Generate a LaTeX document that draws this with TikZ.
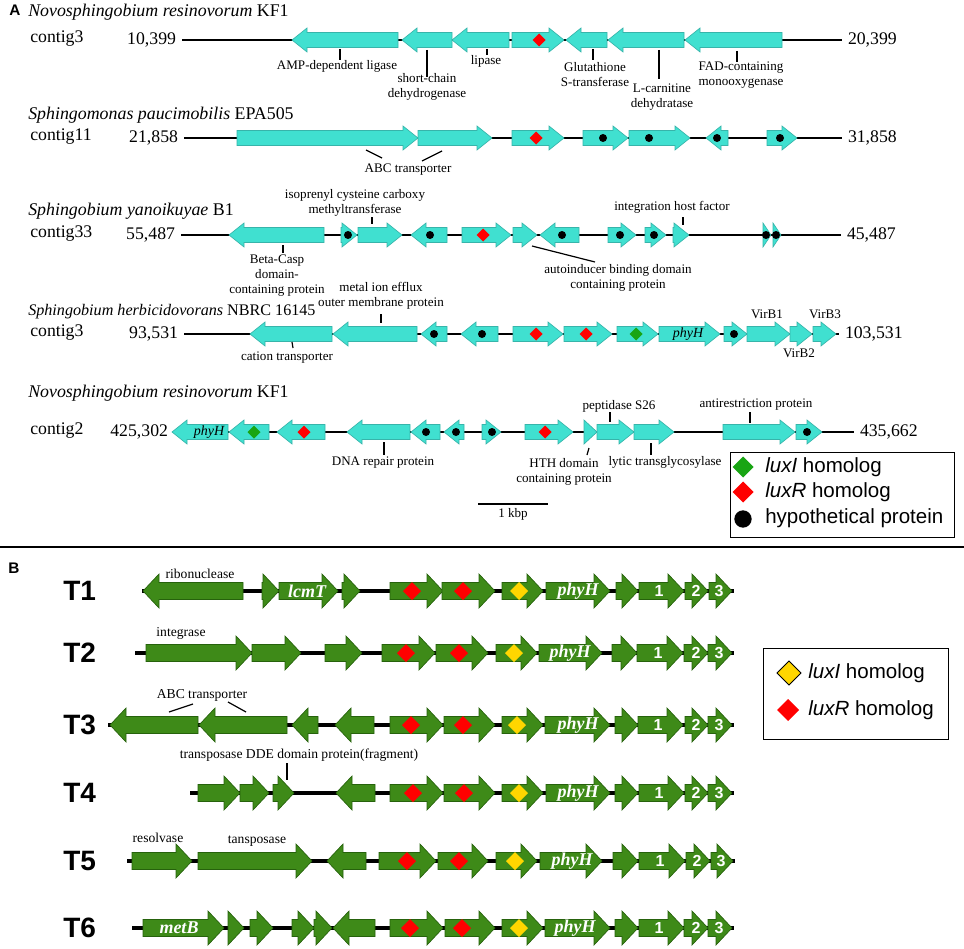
\documentclass[tikz,border=0pt]{standalone}
\usepackage{fontspec}
\setmainfont{Liberation Serif}
\setsansfont{Liberation Sans}
\usepackage{tikz}
\usetikzlibrary{calc}

\definecolor{turq}{RGB}{64,224,208}
\definecolor{turqedge}{RGB}{55,180,170}
\definecolor{leaf}{RGB}{62,138,24}
\definecolor{leafedge}{RGB}{38,98,12}
\definecolor{luxIgreen}{RGB}{25,165,20}
\definecolor{luxIyellow}{RGB}{255,214,0}

\newcommand{\gHead}{15}
\newcommand{\gBody}{7.5}
\newcommand{\gWing}{12}
\newcommand{\gene}[4][]{%
	\pgfmathsetmacro{\gLen}{#3-(#2)}%
	\pgfmathsetmacro{\gBase}{#3-(\gLen>0?1:-1)*min(\gHead,abs(\gLen))}%
	\filldraw[gene,#1] (#2,#4-\gBody) -- (\gBase,#4-\gBody) -- (\gBase,#4-\gWing) -- (#3,#4) -- (\gBase,#4+\gWing) -- (\gBase,#4+\gBody) -- (#2,#4+\gBody) -- cycle;}
\newcommand{\dmd}[4][]{\filldraw[#1] (#2,#3) +(-#4,0) -- +(0,#4) -- +(#4,0) -- +(0,-#4) -- cycle;}

\tikzset{
	geneA/.style={fill=turq, draw=turqedge, line width=0.5pt},
	geneB/.style={fill=leaf, draw=leafedge, line width=0.5pt},
	lbl/.style={font=\fontsize{9.8}{11.25}\selectfont, align=center, inner sep=0pt},
	lblB/.style={font=\fontsize{10.2}{12}\selectfont, inner sep=0pt},
	species/.style={font=\fontsize{13.4}{16}\selectfont, anchor=base west, inner sep=0pt},
	contig/.style={font=\fontsize{13.3}{16}\selectfont, anchor=west, inner sep=0pt},
	bpnum/.style={font=\fontsize{13.3}{16}\selectfont, inner sep=0pt, outer sep=4.5pt},
	legtext/.style={font=\sffamily\fontsize{15.4}{18}\selectfont, anchor=west, inner sep=0pt},
	trackname/.style={font=\sffamily\bfseries\fontsize{21}{24}\selectfont, anchor=west, inner sep=0pt},
	panel/.style={font=\sffamily\bfseries\fontsize{11.5}{13}\selectfont, anchor=base west, inner sep=0pt},
	inname/.style={font=\bfseries\itshape\fontsize{13.5}{15}\selectfont, text=white, inner sep=0pt},
	innum/.style={font=\sffamily\bfseries\fontsize{12}{14}\selectfont, text=white, inner sep=0pt},
	backA/.style={line width=1.3pt},
	backB/.style={line width=3pt},
	leader/.style={line width=0.9pt},
	redmark/.style={fill=red, draw=none},
	dot/.style={fill=black},
}

\begin{document}
\begin{tikzpicture}[x=0.75pt, y=-0.75pt]
	\useasboundingbox (0,0) rectangle (964,949);
	\tikzset{gene/.style={geneA}}

	\node[panel] (pA) at (9,16) {A};
	\node[species] (sp1) at (28,17) {\textit{Novosphingobium resinovorum} KF1};
	\node[contig] (c1) at (30,38.5) {contig3};
	\node[bpnum, anchor=east] (s1) at (182,40) {10,399};
	\node[bpnum, anchor=west] (e1) at (842,40) {20,399};
	\draw[backA] (s1) -- (e1);
	\gene{398}{292}{40} \gene{452}{402}{40} \gene{509}{452}{40} \gene{512}{564}{40}
	\gene{607}{566}{40} \gene{684}{608}{40} \gene{782}{685}{40}
	\dmd[redmark]{539}{40}{6.5}
	\node[lbl] (amp) at (337,66) {AMP-dependent ligase};
	\node[lbl] (scd) at (427,87) {short-chain\\dehydrogenase};
	\node[lbl] (lip) at (486,61) {lipase};
	\node[lbl] (gst) at (595,75) {Glutathione\\S-transferase};
	\node[lbl] (lcd) at (662,97) {L-carnitine\\dehydratase};
	\node[lbl] (fad) at (741,75) {FAD-containing\\monooxygenase};
	\draw[leader] (340,49) -- (340,60);
	\draw[leader] (427,50) -- (427,77);
	\draw[leader] (487,49) -- (487,55);
	\draw[leader] (593,49) -- (593,60);
	\draw[leader] (659,50) -- (659,79);
	\draw[leader] (737,51) -- (737,62);

	\node[species] (sp2) at (28,119) {\textit{Sphingomonas paucimobilis} EPA505};
	\node[contig] (c2) at (30,136.5) {contig11};
	\node[bpnum, anchor=east] (s2) at (184,138) {21,858};
	\node[bpnum, anchor=west] (e2) at (842,138) {31,858};
	\draw[backA] (s2) -- (e2);
	\gene{237}{418}{138} \gene{418}{492}{138} \gene{512}{564}{138} \gene{583}{628}{138}
	\gene{629}{690}{138} \gene{728}{706}{138} \gene{767}{797}{138}
	\dmd[redmark]{536}{138}{6.5}
	\foreach \px in {603,649,717,780} \fill[dot] (\px,138) circle (3pt);
	\node[lbl] (abcA) at (408,170) {ABC transporter};
	\draw[leader] (366,150) -- (382,158);
	\draw[leader] (422,161) -- (442,151);

	\node[species] (sp3) at (28,215) {\textit{Sphingobium yanoikuyae} B1};
	\node[contig] (c3) at (30,233.5) {contig33};
	\node[bpnum, anchor=east] (s3) at (181,235) {55,487};
	\node[bpnum, anchor=west] (e3) at (841,235) {45,487};
	\draw[backA] (s3) -- (e3);
	\gene{324}{229}{235} \gene{341}{357}{235} \gene{358}{402}{235} \gene{447}{411}{235}
	\gene{462}{511}{235} \gene{513}{537}{235} \gene{579}{540}{235} \gene{608}{636}{235}
	\gene{645}{666}{235} \gene{673}{689}{235} \gene{763}{771}{235} \gene{773}{781}{235}
	\dmd[redmark]{483}{235}{6.5}
	\foreach \px in {348,430,562,620,654,766,776} \fill[dot] (\px,235) circle (3pt);
	\node[lbl] (icm) at (355,203) {isoprenyl cysteine carboxy\\methyltransferase};
	\node[lbl] (bcp) at (277,275.5) {Beta-Casp\\domain-\\containing protein};
	\node[lbl] (aib) at (618,277.5) {autoinducer binding domain\\containing protein};
	\node[lbl] (ihf) at (672,207) {integration host factor};
	\draw[leader] (372,217) -- (372,224);
	\draw[leader] (283,245) -- (283,253);
	\draw[leader] (532,246) -- (595,262);
	\draw[leader] (683,217) -- (683,225);

	\node[species, font=\fontsize{12.1}{15}\selectfont] (sp4) at (28,315) {\textit{Sphingobium herbicidovorans} NBRC 16145};
	\node[contig] (c4) at (30,332.5) {contig3};
	\node[bpnum, anchor=east] (s4) at (184,334) {93,531};
	\node[bpnum, anchor=west] (e4) at (839,334) {103,531};
	\draw[backA] (s4) -- (e4);
	\gene{332}{250}{334} \gene{417}{333}{334} \gene{447}{421}{334} \gene{498}{461}{334}
	\gene{513}{563}{334} \gene{564}{612}{334} \gene{617}{658}{334} \gene{659}{720}{334}
	\gene{724}{747}{334} \gene{747}{790}{334} \gene{790}{812}{334} \gene{813}{836}{334}
	\dmd[redmark]{536}{334}{6.5}
	\dmd[redmark]{586}{334}{6.5}
	\dmd[fill=luxIgreen, draw=none]{636}{334}{6.5}
	\foreach \px in {434,482,734} \fill[dot] (\px,334) circle (3pt);
	\node[lbl, font=\itshape\fontsize{10.5}{12}\selectfont] (phyA1) at (688,334) {phyH};
	\node[lbl] (mie) at (381,296) {metal ion efflux\\outer membrane protein};
	\node[lbl] (cat) at (287,358) {cation transporter};
	\node[lbl] (vb1) at (767,314) {VirB1};
	\node[lbl] (vb3) at (825,314) {VirB3};
	\node[lbl] (vb2) at (799,353) {VirB2};
	\draw[leader] (381,314) -- (381,323);
	\draw[leader] (292,342) -- (293,348);

	\node[species] (sp5) at (28,397) {\textit{Novosphingobium resinovorum} KF1};
	\node[contig] (c5) at (30,430.5) {contig2};
	\node[bpnum, anchor=east] (s5) at (174,432) {425,302};
	\node[bpnum, anchor=west] (e5) at (854,432) {435,662};
	\draw[backA] (s5) -- (e5);
	\gene{228}{172}{432} \gene{269}{229}{432} \gene{325}{277}{432} \gene{410}{347}{432}
	\gene{440}{411}{432} \gene{464}{444}{432} \gene{482}{501}{432} \gene{525}{573}{432}
	\gene{584}{597}{432} \gene{597}{634}{432} \gene{634}{674}{432} \gene{723}{795}{432}
	\gene{796}{822}{432}
	\dmd[fill=luxIgreen, draw=none]{254}{432}{6.5}
	\dmd[redmark]{304}{432}{6.5}
	\dmd[redmark]{545}{432}{6.5}
	\foreach \px in {426,456,492,807} \fill[dot] (\px,432) circle (3pt);
	\node[lbl, font=\itshape\fontsize{10.5}{12}\selectfont] (phyA2) at (209,432) {phyH};
	\node[lbl] (dna) at (383,463) {DNA repair protein};
	\node[lbl] (hth) at (564,471.5) {HTH domain\\containing protein};
	\node[lbl] (pep) at (619,406) {peptidase S26};
	\node[lbl] (lyt) at (665,462) {lytic transglycosylase};
	\node[lbl] (anti) at (756,405) {antirestriction protein};
	\draw[leader] (384,442) -- (384,455);
	\draw[leader] (589,448) -- (587,455);
	\draw[leader] (610,412) -- (610,422);
	\draw[leader] (651,443) -- (651,455);
	\draw[leader] (750,412) -- (750,423);

	\coordinate (kb1) at (478,504);
	\coordinate (kb2) at (548,504);
	\draw[backA] (kb1) -- (kb2);
	\node[lbl] (kbp) at (513,514) {1 kbp};

	\node[draw, line width=1.1pt, minimum width=168pt, minimum height=63.75pt, anchor=north west, inner sep=0pt] (legA) at (730,452) {};
	\dmd[fill=luxIgreen, draw=none]{743}{467}{10.5}
	\dmd[redmark]{743}{492}{10.5}
	\fill[dot] (743,519) circle (6.5pt);
	\node[legtext] (lgA1) at (765,467) {\textit{luxI} homolog};
	\node[legtext] (lgA2) at (765,492) {\textit{luxR} homolog};
	\node[legtext] (lgA3) at (765,518) {hypothetical protein};

	\coordinate (sepL) at (0,547);
	\coordinate (sepR) at (964,547);
	\draw[line width=1.6pt] (sepL) -- (sepR);

	\def\gHead{16}\def\gBody{8.5}\def\gWing{17}
	\tikzset{gene/.style={geneB}}
	\node[panel] (pB) at (8,573) {B};

	\node[trackname] (t1) at (63,591) {T1};
	\coordinate (b1s) at (142,591); \coordinate (b1e) at (734,591);
	\draw[backB] (b1s) -- (b1e);
	\gene{243}{143}{591} \gene{262}{279}{591} \gene{279}{338}{591} \gene{342}{360}{591}
	\gene{390}{443}{591} \gene{442}{495}{591} \gene{502}{543}{591} \gene{546}{610}{591}
	\gene{616}{638}{591} \gene{639}{684}{591} \gene{685}{708}{591} \gene{709}{732}{591}
	\dmd[redmark]{412}{591}{9} \dmd[redmark]{463}{591}{9}
	\dmd[fill=luxIyellow, draw=none]{519}{591}{9}
	\node[lblB] (rib) at (200,574) {ribonuclease};
	\node[inname] (lcm) at (307,591) {lcmT};
	\node[inname] (ph1) at (578,591) {phyH};
	\node[innum] (n11) at (659,591) {1}; \node[innum] (n12) at (696,591) {2}; \node[innum] (n13) at (719,591) {3};

	\node[trackname] (t2) at (63,653) {T2};
	\coordinate (b2s) at (135,653); \coordinate (b2e) at (734,653);
	\draw[backB] (b2s) -- (b2e);
	\gene{146}{252}{653} \gene{252}{301}{653} \gene{325}{362}{653} \gene{382}{435}{653}
	\gene{436}{488}{653} \gene{496}{537}{653} \gene{539}{602}{653} \gene{612}{637}{653}
	\gene{637}{683}{653} \gene{684}{708}{653} \gene{708}{732}{653}
	\dmd[redmark]{406}{653}{9} \dmd[redmark]{459}{653}{9}
	\dmd[fill=luxIyellow, draw=none]{514}{653}{9}
	\node[lblB] (intg) at (181,633) {integrase};
	\node[inname] (ph2) at (570,653) {phyH};
	\node[innum] (n21) at (658,653) {1}; \node[innum] (n22) at (696,653) {2}; \node[innum] (n23) at (719,653) {3};

	\node[trackname] (t3) at (63,725) {T3};
	\coordinate (b3s) at (108,725); \coordinate (b3e) at (734,725);
	\draw[backB] (b3s) -- (b3e);
	\gene{198}{110}{725} \gene{287}{199}{725} \gene{318}{292}{725} \gene{374}{335}{725}
	\gene{390}{443}{725} \gene{444}{495}{725} \gene{502}{543}{725} \gene{545}{610}{725}
	\gene{615}{638}{725} \gene{638}{683}{725} \gene{685}{708}{725} \gene{708}{732}{725}
	\dmd[redmark]{411}{725}{9} \dmd[redmark]{463}{725}{9}
	\dmd[fill=luxIyellow, draw=none]{517}{725}{9}
	\node[lblB] (abcB) at (202,695) {ABC transporter};
	\draw[leader] (169,712) -- (193,704);
	\draw[leader] (228,702) -- (246,712);
	\node[inname] (ph3) at (578,725) {phyH};
	\node[innum] (n31) at (658,725) {1}; \node[innum] (n32) at (696,725) {2}; \node[innum] (n33) at (719,725) {3};

	\node[trackname] (t4) at (63,793) {T4};
	\coordinate (b4s) at (190,793); \coordinate (b4e) at (734,793);
	\draw[backB] (b4s) -- (b4e);
	\gene{198}{240}{793} \gene{240}{269}{793} \gene{273}{294}{793} \gene{375}{336}{793}
	\gene{390}{443}{793} \gene{444}{495}{793} \gene{502}{543}{793} \gene{546}{610}{793}
	\gene{615}{638}{793} \gene{639}{684}{793} \gene{685}{708}{793} \gene{708}{732}{793}
	\dmd[redmark]{413}{793}{9} \dmd[redmark]{464}{793}{9}
	\dmd[fill=luxIyellow, draw=none]{519}{793}{9}
	\node[lblB] (dde) at (299,755) {transposase DDE domain protein(fragment)};
	\draw[leader] (287,763) -- (287,780);
	\node[inname] (ph4) at (578,793) {phyH};
	\node[innum] (n41) at (659,793) {1}; \node[innum] (n42) at (696,793) {2}; \node[innum] (n43) at (719,793) {3};

	\node[trackname] (t5) at (63,861) {T5};
	\coordinate (b5s) at (127,861); \coordinate (b5e) at (735,861);
	\draw[backB] (b5s) -- (b5e);
	\gene{132}{192}{861} \gene{198}{312}{861} \gene{366}{327}{861} \gene{379}{436}{861}
	\gene{438}{488}{861} \gene{496}{537}{861} \gene{540}{602}{861} \gene{613}{638}{861}
	\gene{639}{685}{861} \gene{686}{710}{861} \gene{711}{733}{861}
	\dmd[redmark]{407}{861}{9} \dmd[redmark]{459}{861}{9}
	\dmd[fill=luxIyellow, draw=none]{515}{861}{9}
	\node[lblB] (res) at (158,838) {resolvase};
	\node[lblB] (tns) at (257,841) {tansposase};
	\node[inname] (ph5) at (572,861) {phyH};
	\node[innum] (n51) at (660,861) {1}; \node[innum] (n52) at (697,861) {2}; \node[innum] (n53) at (721,861) {3};

	\node[trackname] (t6) at (63,928) {T6};
	\coordinate (b6s) at (132,928); \coordinate (b6e) at (734,928);
	\draw[backB] (b6s) -- (b6e);
	\gene{143}{224}{928} \gene{228}{244}{928} \gene{250}{273}{928} \gene{292}{314}{928}
	\gene{314}{332}{928} \gene{375}{333}{928} \gene{390}{443}{928} \gene{445}{495}{928}
	\gene{502}{543}{928} \gene{545}{610}{928} \gene{615}{638}{928} \gene{639}{684}{928}
	\gene{684}{708}{928} \gene{708}{732}{928}
	\dmd[redmark]{410}{928}{9} \dmd[redmark]{462}{928}{9}
	\dmd[fill=luxIyellow, draw=none]{519}{928}{9}
	\node[inname] (mtb) at (179,928) {metB};
	\node[inname] (ph6) at (575,928) {phyH};
	\node[innum] (n61) at (659,928) {1}; \node[innum] (n62) at (696,928) {2}; \node[innum] (n63) at (719,928) {3};

	\node[draw, line width=1.1pt, minimum width=138.75pt, minimum height=68.25pt, anchor=north west, inner sep=0pt] (legB) at (763,648) {};
	\dmd[fill=luxIyellow, draw=black, line width=0.6pt]{789}{673}{12}
	\dmd[redmark]{788}{710}{11}
	\node[legtext] (lgB1) at (808,673) {\textit{luxI} homolog};
	\node[legtext] (lgB2) at (808,710) {\textit{luxR} homolog};
\end{tikzpicture}
\end{document}
